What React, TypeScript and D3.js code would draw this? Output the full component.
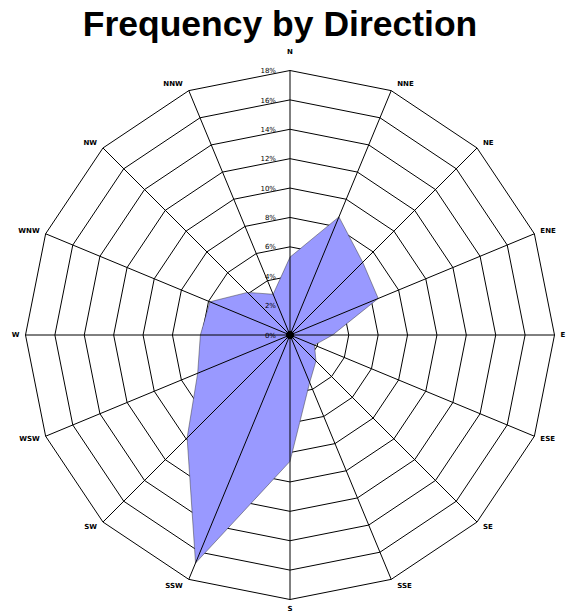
import * as d3 from "d3";

const WIDTH = 573;
const HEIGHT = 616;
const CX = 290;
const CY = 335;
const RADIUS = 264.5;

const DIRECTIONS = ["N", "NNE", "NE", "ENE", "E", "ESE", "SE", "SSE", "S", "SSW", "SW", "WSW", "W", "WNW", "NW", "NNW"];
const FREQUENCY = [5.3, 8.7, 7.0, 6.5, 2.9, 1.8, 2.5, 3.5, 8.6, 16.8, 9.9, 6.8, 6.1, 5.9, 4.1, 3.0];
const RING_TICKS = [2, 4, 6, 8, 10, 12, 14, 16, 18];
const LABEL_TICKS = [0, 2, 4, 6, 8, 10, 12, 14, 16, 18];

export default function App() {
  const r = d3.scaleLinear().domain([0, 18]).range([0, RADIUS]);
  const angle = d3
    .scaleLinear()
    .domain([0, DIRECTIONS.length])
    .range([0, 2 * Math.PI]);

  const ringLine = d3
    .lineRadial<number>()
    .angle((_, i) => angle(i))
    .radius((d) => r(d))
    .curve(d3.curveLinearClosed);

  const dataPath = ringLine(FREQUENCY);

  const point = (i: number, v: number) => {
    const a = angle(i);
    return [Math.sin(a) * v, -Math.cos(a) * v];
  };

  return (
    <svg
      width={WIDTH}
      height={HEIGHT}
      style={{ position: "absolute", left: 0, top: 0, background: "#fff" }}
      fontFamily="'DejaVu Sans', Verdana, sans-serif"
    >
      <text
        x={280}
        y={36}
        textAnchor="middle"
        fontFamily="'Liberation Sans', Arial, sans-serif"
        fontWeight="bold"
        fontSize={35.5}
        fill="#000"
      >
        Frequency by Direction
      </text>

      <g transform={`translate(${CX},${CY})`}>
        {/* rings under the data */}
        {RING_TICKS.map((t) => (
          <path
            key={t}
            d={ringLine(DIRECTIONS.map(() => t)) ?? ""}
            fill="none"
            stroke="#000"
            strokeWidth={1}
          />
        ))}

        <path
          d={dataPath ?? ""}
          fill="#9999ff"
          stroke="#333"
          strokeOpacity={0.6}
          strokeWidth={0.8}
        />

        {/* spokes over the data */}
        {DIRECTIONS.map((d, i) => {
          const [x, y] = point(i, RADIUS);
          return <line key={d} x1={0} y1={0} x2={x} y2={y} stroke="#000" strokeWidth={1} />;
        })}

        <circle r={4} fill="#000" />

        {LABEL_TICKS.map((t) => (
          <text
            key={t}
            x={-14}
            y={-r(t)}
            dy="0.1em"
            textAnchor="end"
            dominantBaseline="middle"
            fontSize={7}
            fill="#000"
          >
            {t}%
          </text>
        ))}

        {DIRECTIONS.map((d, i) => {
          const a = angle(i);
          const [vx, vy] = point(i, RADIUS);
          const s = Math.sin(a);
          let x = vx;
          let y = vy - Math.cos(a) * 7;
          let anchor = "middle";
          if (Math.abs(s) > 0.01) {
            anchor = s > 0 ? "start" : "end";
            x = vx + (s > 0 ? 6 : -6);
          } else {
            y = vy + (Math.cos(a) > 0 ? -18 : 10);
          }
          return (
            <text
              key={d}
              x={x}
              y={y}
              textAnchor={anchor}
              dominantBaseline="middle"
              fontSize={7}
              fontWeight="bold"
              fill="#000"
            >
              {d}
            </text>
          );
        })}
      </g>
    </svg>
  );
}
